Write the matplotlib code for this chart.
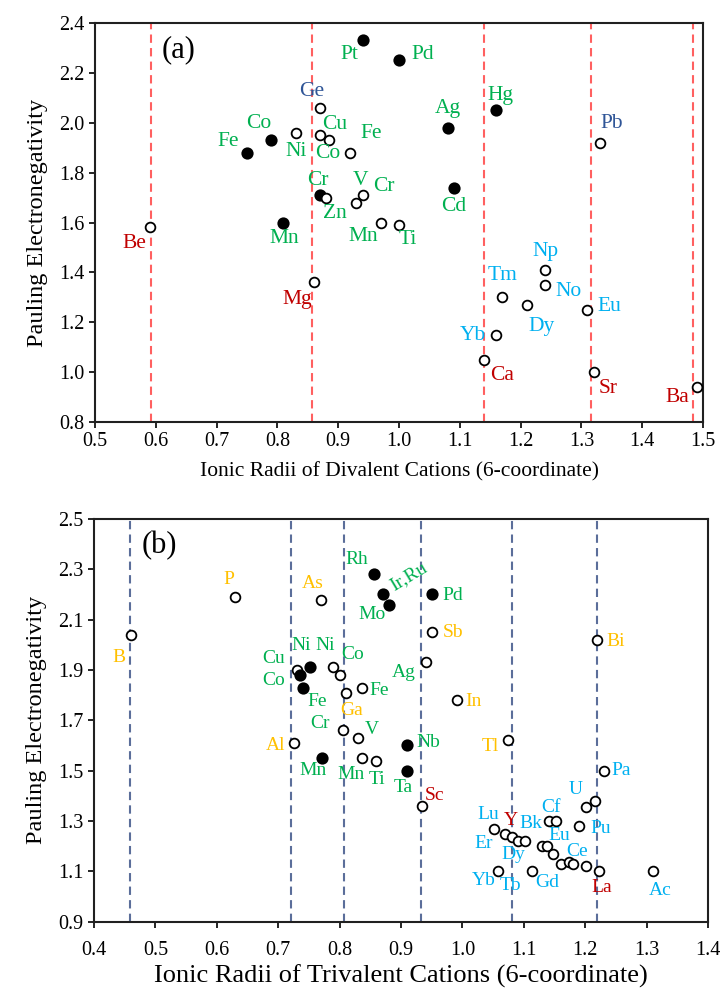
import matplotlib
matplotlib.use("Agg")
import matplotlib.pyplot as plt

plt.rcParams['font.family'] = ['Liberation Serif', 'DejaVu Serif']

# ---------------- panel (a): divalent cations ----------------
a_names = ['Pt', 'Pd', 'Ge', 'Ni', 'Cu', 'Co', 'Co', 'Fe', 'Fe', 'Cr', 'Zn', 'V', 'Cr',
           'Mn', 'Mn', 'Ti', 'Be', 'Hg', 'Ag', 'Pb', 'Cd', 'Mg', 'Np', 'No', 'Tm', 'Dy',
           'Eu', 'Yb', 'Ca', 'Sr', 'Ba']
a_radius = [0.94, 1.00, 0.87, 0.83, 0.87, 0.885, 0.79, 0.75, 0.92, 0.87, 0.88, 0.94, 0.93,
            0.81, 0.97, 1.00, 0.59, 1.16, 1.08, 1.33, 1.09, 0.86, 1.24, 1.24, 1.17, 1.21,
            1.31, 1.16, 1.14, 1.32, 1.49]
a_en = [2.33, 2.25, 2.06, 1.96, 1.95, 1.93, 1.93, 1.88, 1.88, 1.71, 1.70, 1.71, 1.68,
        1.60, 1.60, 1.59, 1.58, 2.05, 1.98, 1.92, 1.74, 1.36, 1.41, 1.35, 1.30, 1.27,
        1.25, 1.15, 1.05, 1.00, 0.94]
a_filled = [1, 1, 0, 0, 0, 0, 1, 1, 0, 1, 0, 0, 0,
            1, 0, 0, 0, 1, 1, 0, 1, 0, 0, 0, 0, 0,
            0, 0, 0, 0, 0]
a_group = ['tm', 'tm', 'pb', 'tm', 'tm', 'tm', 'tm', 'tm', 'tm', 'tm', 'tm', 'tm', 'tm',
           'tm', 'tm', 'tm', 'ae', 'tm', 'tm', 'pb', 'tm', 'ae', 'ln', 'ln', 'ln', 'ln',
           'ln', 'ln', 'ae', 'ae', 'ae']
a_label_x = [0.918, 1.039, 0.857, 0.830, 0.895, 0.882, 0.770, 0.719, 0.955, 0.866, 0.894, 0.936, 0.975,
             0.811, 0.941, 1.015, 0.564, 1.167, 1.081, 1.350, 1.090, 0.832, 1.241, 1.279, 1.171, 1.234,
             1.346, 1.122, 1.169, 1.344, 1.458]
a_label_y = [2.272, 2.272, 2.125, 1.884, 1.991, 1.875, 1.998, 1.924, 1.955, 1.770, 1.637, 1.770, 1.744,
             1.537, 1.543, 1.530, 1.517, 2.109, 2.058, 1.995, 1.663, 1.292, 1.483, 1.323, 1.386, 1.182,
             1.262, 1.145, 0.986, 0.935, 0.898]
a_guides = [0.592, 0.857, 1.139, 1.316, 1.484]

# ---------------- panel (b): trivalent cations ----------------
b_names = ['B', 'P', 'As', 'Rh', 'Ir,Ru', 'Mo', 'Cu', 'Ni', 'Co', 'Fe', 'Ni', 'Co', 'Ga',
           'Fe', 'Cr', 'V', 'Al', 'Mn', 'Mn', 'Ti', 'Nb', 'Ta', 'Pd', 'Sb', 'Bi', 'Ag',
           'In', 'Tl', 'Pa', 'Sc', 'U', 'Cf', 'Bk', 'Pu', 'Lu', 'Er', 'Y', 'Dy', 'Tb',
           'Eu', 'Ce', 'La', 'Ac', 'Yb', 'Gd']
b_radius = [0.46, 0.63, 0.77, 0.856, 0.87, 0.881, 0.73, 0.751, 0.736, 0.741, 0.79, 0.80, 0.81,
            0.836, 0.806, 0.83, 0.726, 0.771, 0.836, 0.86, 0.91, 0.91, 0.951, 0.951, 1.22, 0.941,
            0.991, 1.075, 1.231, 0.935, 1.216, 1.141, 1.152, 1.19, 1.051, 1.07, 1.081, 1.091, 1.102,
            1.129, 1.161, 1.222, 1.31, 1.058, 1.113]
b_en = [2.04, 2.19, 2.18, 2.28, 2.20, 2.16, 1.90, 1.91, 1.88, 1.83, 1.91, 1.88, 1.81,
        1.83, 1.66, 1.63, 1.61, 1.55, 1.55, 1.54, 1.60, 1.50, 2.20, 2.05, 2.02, 1.93,
        1.78, 1.62, 1.50, 1.36, 1.38, 1.30, 1.30, 1.28, 1.27, 1.25, 1.235, 1.22, 1.22,
        1.20, 1.13, 1.10, 1.10, 1.10, 1.10]
b_filled = [0, 0, 0, 1, 1, 1, 0, 1, 1, 1, 0, 0, 0,
            0, 0, 0, 0, 1, 0, 0, 1, 1, 1, 0, 0, 0,
            0, 0, 0, 0, 0, 0, 0, 0, 0, 0, 0, 0, 0,
            0, 0, 0, 0, 0, 0]
b_group = ['pb', 'pb', 'pb', 'tm', 'tm', 'tm', 'tm', 'tm', 'tm', 'tm', 'tm', 'tm', 'pb',
           'tm', 'tm', 'tm', 'pb', 'tm', 'tm', 'tm', 'tm', 'tm', 'tm', 'pb', 'pb', 'tm',
           'pb', 'pb', 'ln', 'ae', 'ln', 'ln', 'ln', 'ln', 'ln', 'ln', 'ae', 'ln', 'ln',
           'ln', 'ln', 'ae', 'ln', 'ln', 'ln']
b_label_x = [0.441, 0.619, 0.756, 0.828, 0.913, 0.852, 0.692, 0.737, 0.693, 0.764, 0.776, 0.821, 0.819,
             0.865, 0.768, 0.852, 0.695, 0.756, 0.819, 0.861, 0.944, 0.903, 0.985, 0.984, 1.249, 0.905,
             1.018, 1.045, 1.259, 0.955, 1.184, 1.145, 1.111, 1.226, 1.042, 1.035, 1.079, 1.083, 1.079,
             1.157, 1.187, 1.227, 1.322, 1.034, 1.138]
b_label_y = [1.950, 2.258, 2.244, 2.340, 2.270, 2.119, 1.944, 1.997, 1.860, 1.774, 1.997, 1.960, 1.738,
             1.817, 1.686, 1.664, 1.599, 1.499, 1.486, 1.463, 1.611, 1.434, 2.195, 2.048, 2.013, 1.891,
             1.774, 1.595, 1.499, 1.403, 1.426, 1.354, 1.291, 1.272, 1.327, 1.209, 1.304, 1.165, 1.042,
             1.241, 1.178, 1.035, 1.023, 1.062, 1.055]
b_extra_open_x = [1.138, 1.148, 1.173, 1.180, 1.201, 1.201]
b_extra_open_y = [1.20, 1.17, 1.138, 1.13, 1.12, 1.357]
b_guides = [0.459, 0.721, 0.807, 0.933, 1.081, 1.220]

colors = {'tm': '#00B050', 'pb': '#2F5597', 'ae': '#C00000', 'ln': '#00B0F0'}
b_colors = {'tm': '#00B050', 'pb': '#FFC000', 'ae': '#C00000', 'ln': '#00B0F0'}

fig = plt.figure(figsize=(7.22, 9.9), dpi=100)


def style_axes(ax):
    for s in ax.spines.values():
        s.set_linewidth(1.5)
        s.set_color('#202020')
    ax.tick_params(direction='out', length=4, width=1.2, labelsize=14.5)


def scatter_points(ax, xs, ys, filled):
    for x, y, f in zip(xs, ys, filled):
        ax.plot(x, y, 'o', ms=7.5 if f else 7, mfc='black' if f else 'white',
                mec='black', mew=1.3, zorder=5)


# ---- (a)
ax1 = fig.add_axes([0.1316, 0.5737, 0.8421, 0.4031])
style_axes(ax1)
for g in a_guides:
    ax1.axvline(g, color='#FF6060', lw=1.5, ls=(0, (4, 2.5)), zorder=1)
scatter_points(ax1, a_radius, a_en, a_filled)
for n, lx, ly, grp in zip(a_names, a_label_x, a_label_y, a_group):
    ax1.text(lx, ly, n, color=colors[grp], fontsize=15.5, ha='center', va='center', zorder=6)
ax1.set_xlim(0.5, 1.5)
ax1.set_ylim(0.8, 2.4)
ax1.set_xticks([0.5 + 0.1 * i for i in range(11)])
ax1.set_xticklabels([f'{0.5 + 0.1 * i:.1f}' for i in range(11)])
ax1.set_yticks([0.8 + 0.2 * i for i in range(9)])
ax1.set_yticklabels([f'{0.8 + 0.2 * i:.1f}' for i in range(9)])
ax1.tick_params(axis='x', pad=3)
ax1.set_xlabel('Ionic Radii of Divalent Cations (6-coordinate)', fontsize=15.5, labelpad=8)
ax1.set_ylabel('Pauling Electronegativity', fontsize=17.5, labelpad=8)
ax1.text(0.137, 0.934, '(a)', transform=ax1.transAxes, fontsize=22, ha='center', va='center')

# ---- (b)
ax2 = fig.add_axes([0.1302, 0.069, 0.8504, 0.4068])
style_axes(ax2)
for g in b_guides:
    ax2.axvline(g, color='#5B6E9A', lw=1.5, ls=(0, (4, 2.5)), zorder=1)
scatter_points(ax2, b_radius, b_en, b_filled)
scatter_points(ax2, b_extra_open_x, b_extra_open_y, [0] * len(b_extra_open_x))
for n, lx, ly, grp in zip(b_names, b_label_x, b_label_y, b_group):
    rot = 31 if n == 'Ir,Ru' else 0
    ax2.text(lx, ly, n, color=b_colors[grp], fontsize=14, ha='center', va='center',
             rotation=rot, zorder=6)
ax2.set_xlim(0.4, 1.4)
ax2.set_ylim(0.9, 2.5)
ax2.set_xticks([0.4 + 0.1 * i for i in range(11)])
ax2.set_xticklabels([f'{0.4 + 0.1 * i:.1f}' for i in range(11)])
ax2.set_yticks([0.9 + 0.2 * i for i in range(9)])
ax2.set_yticklabels([f'{0.9 + 0.2 * i:.1f}' for i in range(9)])
ax2.tick_params(axis='x', pad=10)
ax2.set_xlabel('Ionic Radii of Trivalent Cations (6-coordinate)', fontsize=19, labelpad=3)
ax2.set_ylabel('Pauling Electronegativity', fontsize=17.5, labelpad=8)
ax2.text(0.106, 0.935, '(b)', transform=ax2.transAxes, fontsize=22, ha='center', va='center')

fig.savefig('out.png', dpi=100)
